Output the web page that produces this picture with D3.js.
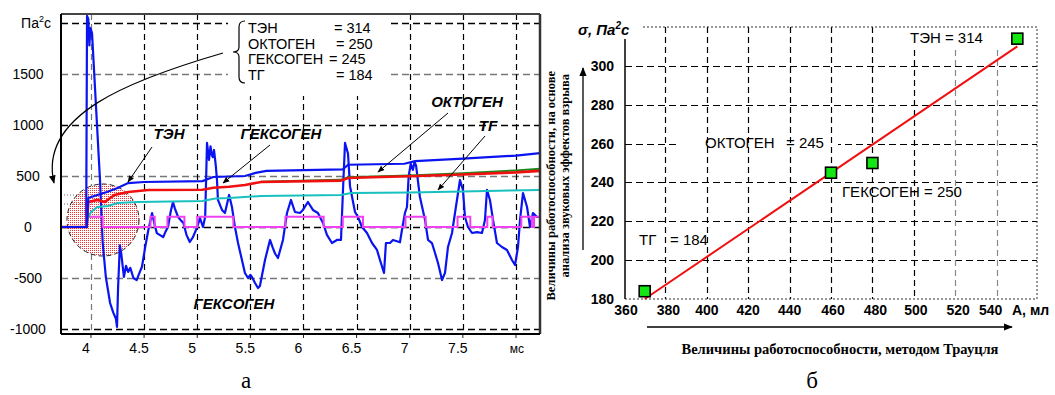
<!DOCTYPE html>
<html>
<head>
<meta charset="utf-8">
<script src="https://cdn.jsdelivr.net/npm/d3@7"></script>
<style>
  body { margin: 0; background: #fff; }
  svg { display: block; font-family: "Liberation Sans", Arial, sans-serif; }
</style>
</head>
<body>
<div id="chart"></div>
<script>
// ── Panel (а): pressure signal and integral curves, [t ms, Pa²s] ─────────
const pressure = [
  [3.72, 0], [3.955, 0], [3.963, 2070], [3.975, 2040], [3.985, 1780], [3.995, 1950],
  [4.01, 1900], [4.085, 460], [4.11, -150], [4.14, -490], [4.18, -745], [4.21, -840],
  [4.235, -900], [4.245, -980], [4.255, -600], [4.272, -180], [4.285, -260], [4.31, -490],
  [4.33, -380], [4.35, -440], [4.37, -400], [4.4, -500], [4.43, -520], [4.46, -440],
  [4.48, -390], [4.51, -200], [4.54, -30], [4.555, 40], [4.575, 137], [4.6, 20],
  [4.62, -60], [4.65, -80], [4.68, -100], [4.7, -50], [4.725, 0], [4.75, 150],
  [4.772, 245], [4.79, 180], [4.82, 98], [4.85, 60], [4.87, 40], [4.9, -80],
  [4.93, -147], [4.96, -100], [5.0, 0], [5.026, 88], [5.054, 0], [5.075, 100],
  [5.092, 824], [5.111, 657], [5.125, 790], [5.139, 700], [5.148, 686], [5.158, 755],
  [5.175, 600], [5.186, 461], [5.195, 265], [5.233, 167], [5.261, 137], [5.3, 314],
  [5.327, 196], [5.355, 0], [5.384, -157], [5.421, -324], [5.449, -451], [5.478, -500],
  [5.5, -470], [5.515, -490], [5.544, -549], [5.572, -598], [5.59, -578], [5.638, -324],
  [5.685, -127], [5.71, -200], [5.732, -260], [5.76, -304], [5.807, -127], [5.845, 137],
  [5.882, 265], [5.92, 147], [5.967, 137], [5.995, 167], [6.042, 245], [6.089, 167],
  [6.136, 137], [6.184, 39], [6.221, -78], [6.268, -157], [6.315, -127], [6.353, -127],
  [6.372, 363], [6.391, 824], [6.419, 720], [6.438, 400], [6.485, 147], [6.513, 98],
  [6.551, 0], [6.598, -59], [6.645, -157], [6.692, -225], [6.72, -324], [6.758, -451],
  [6.776, -157], [6.814, -157], [6.842, -127], [6.88, -140], [6.908, -150], [6.927, -29],
  [6.955, 137], [6.974, 196], [6.99, 500], [7.01, 620], [7.03, 560], [7.045, 637],
  [7.06, 600], [7.096, 294], [7.144, 69], [7.172, -127], [7.209, -157], [7.238, -255],
  [7.266, -353], [7.304, -520], [7.332, -450], [7.36, -196], [7.398, -59], [7.426, 137],
  [7.473, 461], [7.501, 363], [7.52, 98], [7.548, 0], [7.586, -59], [7.633, -50],
  [7.68, -59], [7.708, 69], [7.727, 363], [7.755, 265], [7.784, 69], [7.821, -157],
  [7.868, -196], [7.915, -225], [7.962, -324], [7.991, -373], [8.019, -196], [8.038, 69],
  [8.066, 333], [8.104, 196], [8.132, 0], [8.16, 137], [8.198, 98], [8.226, 98]
];

const tenCurve = [
  [3.72, 0], [3.96, 0], [3.975, 284], [4.06, 314], [4.15, 343], [4.25, 382], [4.35, 431],
  [4.5, 441], [5.05, 450], [5.15, 490], [5.45, 500], [5.55, 530], [5.65, 550],
  [6.37, 565], [6.42, 610], [6.95, 620], [7.05, 645], [7.5, 670], [8.0, 700], [8.226, 725]
];
const hexCurve = [
  [3.72, 0], [3.96, 0], [3.975, 245], [4.06, 265], [4.13, 245], [4.22, 314], [4.35, 343],
  [4.54, 363], [5.05, 365], [5.15, 385], [5.3, 395], [5.45, 412], [5.6, 441],
  [6.35, 455], [6.42, 480], [6.73, 490], [7.0, 497], [7.5, 515], [8.0, 535], [8.226, 550]
];
const octCurve = [
  [5.6, 443], [6.35, 462], [6.42, 488], [7.0, 505], [7.5, 528], [8.0, 555], [8.226, 570]
];
const tgCurve = [
  [3.72, 0], [3.955, 0], [3.965, 69], [4.0, 147], [4.06, 196], [4.16, 206], [4.25, 235],
  [4.44, 245], [5.05, 255], [5.17, 280], [5.3, 285], [5.6, 304], [6.35, 314],
  [6.45, 333], [7.0, 338], [7.5, 348], [8.226, 363]
];
const pulseCurve = [
  [3.72, 0], [3.96, 100], [4.11, 0], [4.56, 100], [4.6, 0], [4.72, 100], [4.88, 0],
  [5.0, 100], [5.34, 0], [5.83, 100], [6.19, 0], [6.37, 100], [6.56, 0], [6.96, 100],
  [7.15, 0], [7.45, 100], [7.57, 0], [7.73, 100], [7.78, 0], [8.05, 100], [8.15, 0],
  [8.17, 100], [8.226, 100]
];

const leftYTicks = [-1000, -500, 0, 500, 1000, 1500];
const leftYGrid = [-1000, -500, 0, 500, 1000, 1500, 2000];
const leftXTicks = [4, 4.5, 5, 5.5, 6, 6.5, 7, 7.5];
const leftXGrid = [4, 4.5, 5, 5.5, 6, 6.5, 7, 7.5, 8];
const legendNames = ["ТЭН", "ОКТОГЕН", "ГЕКСОГЕН", "ТГ"];
const legendValues = [314, 250, 245, 184];

// ── Panel (б): σ versus Trauzl value ──────────────────────────────────────
const explosives = ["ТГ", "ОКТОГЕН", "ГЕКСОГЕН", "ТЭН"];
const trauzl = [370, 460, 480, 550];
const sigma = [184, 245, 250, 314];
const fitLine = [[370, 180], [550, 310]];
const rightYTicks = [180, 200, 220, 240, 260, 280, 300];
const rightXTicks = [360, 380, 400, 420, 440, 460, 480, 500, 520, 540];

// ── SVG ───────────────────────────────────────────────────────────────────
const W = 1055, H = 395;
const svg = d3.select("#chart").append("svg").attr("width", W).attr("height", H);

const defs = svg.append("defs");
const pat = defs.append("pattern")
  .attr("id", "dots").attr("width", 2).attr("height", 2)
  .attr("patternUnits", "userSpaceOnUse");
pat.append("rect").attr("width", 2).attr("height", 2).attr("fill", "#fff");
pat.append("rect").attr("width", 1).attr("height", 1).attr("fill", "#ff2a2a");

function arrowMarker(id) {
  defs.append("marker")
    .attr("id", id).attr("viewBox", "0 0 10 10")
    .attr("refX", 9).attr("refY", 5)
    .attr("markerWidth", 7).attr("markerHeight", 7)
    .attr("orient", "auto-start-reverse")
    .append("path").attr("d", "M0,1 L10,5 L0,9 Z").attr("fill", "#000");
}
arrowMarker("arr");

// ══ LEFT PANEL ════════════════════════════════════════════════════════════
const xL = d3.scaleLinear().domain([3.718, 8.226]).range([61, 540]);
const yL = d3.scaleLinear().domain([-1049, 2088]).range([334, 14]);

const gL = svg.append("g");

// grid lines
gL.selectAll(".hgrid").data(leftYGrid).join("line")
  .attr("x1", 61).attr("x2", 540)
  .attr("y1", d => Math.round(yL(d)) + 0.5).attr("y2", d => Math.round(yL(d)) + 0.5)
  .attr("stroke", d => d % 1000 === 0 ? "#000" : "#777")
  .attr("stroke-width", 1.3).attr("stroke-dasharray", "7,4");

gL.selectAll(".vgrid").data(leftXGrid).join("line")
  .attr("x1", d => Math.round(xL(d)) + 0.5).attr("x2", d => Math.round(xL(d)) + 0.5)
  .attr("y1", 14).attr("y2", 334)
  .attr("stroke", d => d === 4 ? "#777" : "#000")
  .attr("stroke-width", 1.2).attr("stroke-dasharray", "6,4");

// ticks below x axis
gL.selectAll(".xtick").data(leftXGrid).join("line")
  .attr("x1", d => xL(d)).attr("x2", d => xL(d))
  .attr("y1", 334).attr("y2", 338).attr("stroke", "#222");

// dotted circle around the start region
gL.append("circle")
  .attr("cx", 103).attr("cy", 220).attr("r", 36)
  .attr("fill", "url(#dots)").attr("stroke", "#222")
  .attr("stroke-width", 1).attr("stroke-dasharray", "5,3");

// dotted level markers
[195, 204].forEach(y => {
  gL.append("line").attr("x1", 61).attr("x2", 92).attr("y1", y).attr("y2", y)
    .attr("stroke", "#444").attr("stroke-width", 0.8).attr("stroke-dasharray", "1,2");
});

const lineL = d3.line().x(d => xL(d[0])).y(d => yL(d[1]));

gL.append("path").datum(pressure).attr("d", lineL)
  .attr("fill", "none").attr("stroke", "#0a14f0").attr("stroke-width", 2.2)
  .attr("stroke-linejoin", "round");

gL.append("path").datum(pulseCurve)
  .attr("d", d3.line().x(d => xL(d[0])).y(d => yL(d[1])).curve(d3.curveStepAfter))
  .attr("fill", "none").attr("stroke", "#f040f0").attr("stroke-width", 2);

gL.append("path").datum(tgCurve).attr("d", lineL)
  .attr("fill", "none").attr("stroke", "#18c0c0").attr("stroke-width", 2);

gL.append("path").datum(octCurve).attr("d", lineL)
  .attr("fill", "none").attr("stroke", "#1a8a1a").attr("stroke-width", 2);

gL.append("path").datum(hexCurve).attr("d", lineL)
  .attr("fill", "none").attr("stroke", "#f01010").attr("stroke-width", 2.6);

gL.append("path").datum(tenCurve).attr("d", lineL)
  .attr("fill", "none").attr("stroke", "#0a14f0").attr("stroke-width", 2.2);

// frame
gL.append("line").attr("x1", 61).attr("x2", 540).attr("y1", 14).attr("y2", 14)
  .attr("stroke", "#444").attr("stroke-width", 2);
gL.append("line").attr("x1", 540).attr("x2", 540).attr("y1", 14).attr("y2", 334)
  .attr("stroke", "#333").attr("stroke-width", 2.5);
gL.append("line").attr("x1", 61).attr("x2", 61).attr("y1", 14).attr("y2", 334)
  .attr("stroke", "#000").attr("stroke-width", 2);
gL.append("line").attr("x1", 61).attr("x2", 540).attr("y1", 334).attr("y2", 334)
  .attr("stroke", "#000").attr("stroke-width", 2);

// legend box
gL.append("rect").attr("x", 228).attr("y", 15).attr("width", 163).attr("height", 81)
  .attr("fill", "#fff");
gL.append("path")
  .attr("d", "M245,21 Q239,21 239,27 L239,47 Q239,52 233,52 Q239,52 239,57 L239,77 Q239,83 245,83")
  .attr("fill", "none").attr("stroke", "#000").attr("stroke-width", 1.2);
const legendValX = [334, 336, 329, 336];
legendNames.forEach((n, i) => {
  const y = 33 + i * 15.7;
  gL.append("text").attr("x", 248).attr("y", y).attr("font-size", 14.5).text(n);
  gL.append("text").attr("x", legendValX[i]).attr("y", y).attr("font-size", 14.5)
    .text("= " + legendValues[i]);
});

// curved arrow from legend to circle
gL.append("path")
  .attr("d", "M223,53 C130,80 38,115 54,183")
  .attr("fill", "none").attr("stroke", "#000").attr("stroke-width", 1.2)
  .attr("marker-end", "url(#arr)");

// y tick labels
gL.selectAll(".ylab").data(leftYTicks).join("text")
  .attr("x", 28).attr("y", d => yL(d) + 5)
  .attr("text-anchor", "middle").attr("font-size", 14)
  .text(d => d);
const unitL = gL.append("text").attr("x", 36).attr("y", 28)
  .attr("text-anchor", "middle").attr("font-size", 14);
unitL.append("tspan").text("Па");
unitL.append("tspan").attr("font-size", 9).attr("dy", -6).text("2");
unitL.append("tspan").attr("dy", 6).text("с");

// x tick labels
gL.selectAll(".xlab").data(leftXTicks).join("text")
  .attr("x", d => xL(d) - 5).attr("y", 353)
  .attr("text-anchor", "middle").attr("font-size", 14)
  .text(d => d);
gL.append("text").attr("x", xL(8) + 1).attr("y", 353)
  .attr("text-anchor", "middle").attr("font-size", 12).text("мс");

// annotations
const annL = [
  { text: "ТЭН", x: 169, y: 139, from: [152, 147], to: [128, 182] },
  { text: "ГЕКСОГЕН", x: 281, y: 139, from: [270, 145], to: [223, 183] },
  { text: "ОКТОГЕН", x: 467, y: 107, from: [448, 113], to: [378, 172] },
  { text: "ТГ", x: 488, y: 131, from: [485, 136], to: [438, 190] }
];
annL.forEach(a => {
  gL.append("text").attr("x", a.x).attr("y", a.y).attr("text-anchor", "middle")
    .attr("font-size", 15).attr("font-weight", "bold").attr("font-style", "italic")
    .text(a.text);
  gL.append("line").attr("x1", a.from[0]).attr("y1", a.from[1])
    .attr("x2", a.to[0]).attr("y2", a.to[1])
    .attr("stroke", "#000").attr("stroke-width", 1)
    .attr("marker-end", "url(#arr)");
});
gL.append("text").attr("x", 234).attr("y", 309).attr("text-anchor", "middle")
  .attr("font-size", 15).attr("font-weight", "bold").attr("font-style", "italic")
  .text("ГЕКСОГЕН");

const serif = "Liberation Serif, 'Times New Roman', serif";
svg.append("text").attr("x", 246).attr("y", 388).attr("text-anchor", "middle")
  .attr("font-family", serif).attr("font-size", 23).text("а");

// ══ RIGHT PANEL ═══════════════════════════════════════════════════════════
const xR = d3.scaleLinear().domain([360, 559.5]).range([624, 1037]);
const yR = d3.scaleLinear().domain([180, 320]).range([299, 27]);
const gR = svg.append("g");

// horizontal grid
gR.selectAll(".hgridR").data(rightYTicks.filter(d => d > 180)).join("line")
  .attr("x1", 625).attr("x2", xR(559.5))
  .attr("y1", d => Math.round(yR(d)) + 0.5).attr("y2", d => Math.round(yR(d)) + 0.5)
  .attr("stroke", "#000").attr("stroke-width", 1.2).attr("stroke-dasharray", "7,4");

// white gap behind ОКТОГЕН label on the 260 line
gR.append("rect").attr("x", 680).attr("y", yR(260) - 3).attr("width", 158).attr("height", 6)
  .attr("fill", "#fff");

// vertical grid
gR.selectAll(".vgridR").data(rightXTicks.filter(d => d > 360)).join("line")
  .attr("x1", d => Math.round(xR(d)) + 0.5).attr("x2", d => Math.round(xR(d)) + 0.5)
  .attr("y1", d => d >= 500 ? 50 : yR(320)).attr("y2", yR(180))
  .attr("stroke", d => d >= 520 ? "#888" : "#000")
  .attr("stroke-width", 1.2).attr("stroke-dasharray", "6,4");

// dotted border
gR.append("path")
  .attr("d", `M643,${yR(320)} H${xR(559.5)} V${yR(180)} H625`)
  .attr("fill", "none").attr("stroke", "#333").attr("stroke-width", 1)
  .attr("stroke-dasharray", "2,2");

// y axis
gR.append("line").attr("x1", 625).attr("x2", 625).attr("y1", 39).attr("y2", yR(180))
  .attr("stroke", "#000").attr("stroke-width", 1.5);

// tick labels
gR.selectAll(".ylabR").data(rightYTicks).join("text")
  .attr("x", 614).attr("y", d => yR(d) + 5)
  .attr("text-anchor", "end").attr("font-size", 14).attr("font-weight", "bold")
  .text(d => d);
const xLabShift = { 360: 2, 380: 3, 400: 0, 420: 0, 440: 0, 460: 2, 480: 3, 500: 2, 520: 3, 540: -6 };
gR.selectAll(".xlabR").data(rightXTicks).join("text")
  .attr("x", d => xR(d) + xLabShift[d]).attr("y", 315)
  .attr("text-anchor", "middle").attr("font-size", 14).attr("font-weight", "bold")
  .text(d => d);
gR.append("text").attr("x", 1012).attr("y", 315).attr("font-size", 14)
  .attr("font-weight", "bold").text("А, мл");

// title
const titleR = gR.append("text").attr("x", 578).attr("y", 35)
  .attr("font-size", 15).attr("font-weight", "bold").attr("font-style", "italic");
titleR.append("tspan").text("σ, Па");
titleR.append("tspan").attr("font-size", 10).attr("dy", -6).text("2");
titleR.append("tspan").attr("dy", 6).text("с");

// fit line
gR.append("path").datum(fitLine)
  .attr("d", d3.line().x(d => xR(d[0])).y(d => yR(d[1])))
  .attr("stroke", "#f01010").attr("stroke-width", 2).attr("fill", "none");

// points
gR.selectAll(".pt").data(trauzl).join("rect")
  .attr("x", d => xR(d) - 5.5)
  .attr("y", (d, i) => yR(sigma[i]) - 5.5)
  .attr("width", 11).attr("height", 11)
  .attr("fill", "#14e614").attr("stroke", "#000").attr("stroke-width", 1.6);

// point labels
const ptLabels = [
  { y: 245, parts: [[639, "ТГ"], [670, "= 184"]] },
  { y: 148, parts: [[705, "ОКТОГЕН"], [786, "= 245"]] },
  { y: 197, parts: [[842, "ГЕКСОГЕН = 250"]] },
  { y: 43, parts: [[910, "ТЭН = 314"]] }
];
ptLabels.forEach(l => {
  l.parts.forEach(p => {
    gR.append("text").attr("x", p[0]).attr("y", l.y).attr("font-size", 15).text(p[1]);
  });
});

// axis titles with arrows
gR.append("line").attr("x1", 583).attr("x2", 583).attr("y1", 250).attr("y2", 68)
  .attr("stroke", "#000").attr("stroke-width", 1.3).attr("marker-end", "url(#arr)");
gR.append("line").attr("x1", 647).attr("x2", 1012).attr("y1", 327).attr("y2", 327)
  .attr("stroke", "#000").attr("stroke-width", 1.3).attr("marker-end", "url(#arr)");

gR.append("text")
  .attr("transform", "translate(555,71) rotate(-90)")
  .attr("text-anchor", "end").attr("font-family", serif)
  .attr("font-size", 12.5).attr("font-weight", "bold")
  .text("Величины работоспособности, на основе");
gR.append("text")
  .attr("transform", "translate(569,74) rotate(-90)")
  .attr("text-anchor", "end").attr("font-family", serif)
  .attr("font-size", 12.5).attr("font-weight", "bold")
  .text("анализа звуковых эффектов взрыва");
gR.append("text").attr("x", 840).attr("y", 354).attr("text-anchor", "middle")
  .attr("font-family", serif).attr("font-size", 14.5).attr("font-weight", "bold")
  .text("Величины работоспособности, методом Трауцля");

svg.append("text").attr("x", 812).attr("y", 388).attr("text-anchor", "middle")
  .attr("font-family", serif).attr("font-size", 23).text("б");
</script>
</body>
</html>
